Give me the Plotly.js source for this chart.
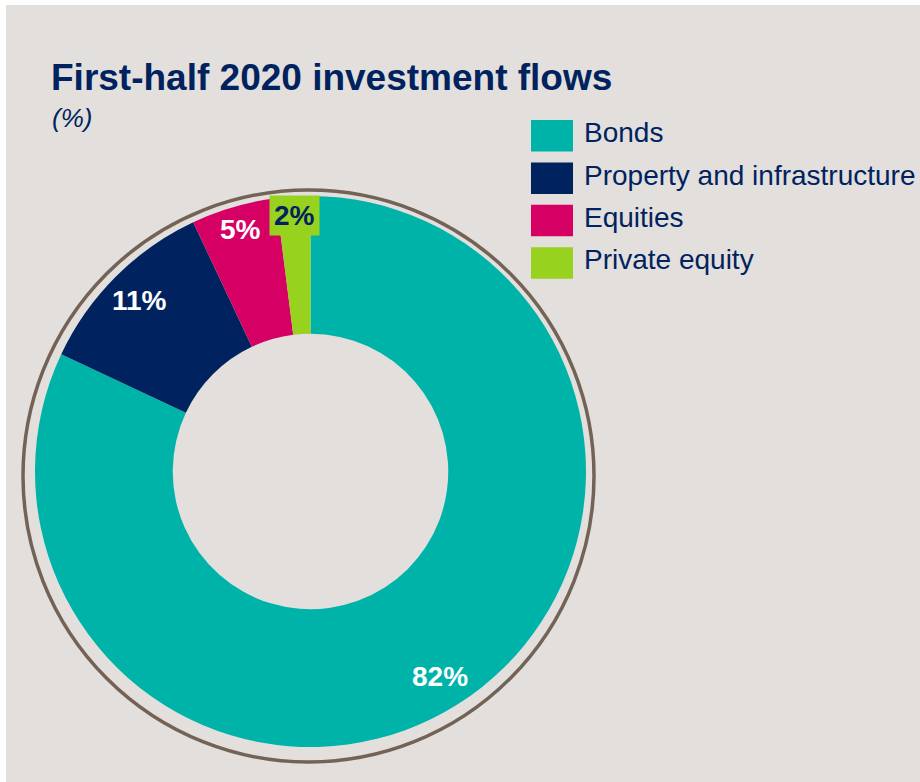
<!DOCTYPE html>
<html>
<head>
<meta charset="utf-8">
<script src="https://cdn.plot.ly/plotly-3.0.1.min.js"></script>
<style>
  html, body { margin: 0; padding: 0; background: #ffffff; }
  #chart { width: 920px; height: 782px; }
</style>
</head>
<body>
<div id="chart"></div>
<script>
// ---- data ----
const categories = ['Bonds', 'Property and infrastructure', 'Equities', 'Private equity'];
const shares = [82, 11, 5, 2];
const sliceColors = ['#00b3a9', '#002360', '#d60064', '#97d21f'];
const titleText = 'First-half 2020 investment flows';
const unitText = '(%)';

// ---- style ----
const W = 920, H = 782;
const FONT = 'Arial, "Liberation Sans", Helvetica, sans-serif';
const NAVY = '#00235f';
const BG = '#e3dfdc';
const labelColors = ['#ffffff', '#ffffff', '#ffffff', NAVY];
const labelBgs = [null, null, null, '#97d21f'];
const labelRadius = [0.88, 0.88, 0.915, 0.93];

const px = x => x / W;
const py = y => 1 - y / H;

// pie geometry (pixels)
const pieLeft = 35, pieRight = 586, pieTop = 196, pieBottom = 747;
const cx = (pieLeft + pieRight) / 2, cy = (pieTop + pieBottom) / 2;
const R = (pieRight - pieLeft) / 2;

const trace = {
  type: 'pie',
  labels: categories,
  values: shares,
  marker: { colors: sliceColors, line: { width: 0 } },
  hole: 0.5,
  sort: false,
  direction: 'clockwise',
  rotation: 0,
  textinfo: 'none',
  hoverinfo: 'label+percent',
  showlegend: false,
  domain: { x: [px(pieLeft), px(pieRight)], y: [py(pieBottom), py(pieTop)] }
};

const annotations = [];
const shapes = [];

// background panel with thin white border at top/left
shapes.push({ type: 'rect', xref: 'paper', yref: 'paper', x0: px(6), x1: 1, y0: 0, y1: py(5),
  fillcolor: BG, line: { width: 0 }, layer: 'below' });
// outer ring
shapes.push({ type: 'circle', xref: 'paper', yref: 'paper',
  x0: px(23), x1: px(594), y0: py(762), y1: py(190),
  line: { color: '#736357', width: 3.5 }, fillcolor: 'rgba(0,0,0,0)', layer: 'below' });

// slice labels at mid-angles computed from data
const total = shares.reduce((a, b) => a + b, 0);
let cum = 0;
shares.forEach((v, i) => {
  const mid = (cum + v / 2) / total * 2 * Math.PI;
  cum += v;
  const r = R * labelRadius[i];
  const x = cx + r * Math.sin(mid);
  const y = cy - r * Math.cos(mid);
  const a = {
    xref: 'paper', yref: 'paper', x: px(x), y: py(y),
    xanchor: 'center', yanchor: 'middle', showarrow: false,
    text: '<b>' + v + '%</b>',
    font: { family: FONT, size: 28, color: labelColors[i] }
  };
  if (labelBgs[i]) { a.bgcolor = labelBgs[i]; a.borderpad = 4; }
  annotations.push(a);
});

// custom legend
const legX = 531, legW = 42, legTop = 120, legH = 31.5, legStep = 42.4;
categories.forEach((c, i) => {
  const t = legTop + i * legStep;
  shapes.push({ type: 'rect', xref: 'paper', yref: 'paper',
    x0: px(legX), x1: px(legX + legW), y0: py(t + legH), y1: py(t),
    fillcolor: sliceColors[i], line: { width: 0 } });
  annotations.push({ xref: 'paper', yref: 'paper', x: px(582), y: py(t + legH / 2 - 3),
    xanchor: 'left', yanchor: 'middle', showarrow: false, text: c,
    font: { family: FONT, size: 28, color: NAVY } });
});

// unit subtitle
annotations.push({ xref: 'paper', yref: 'paper', x: px(50), y: py(118),
  xanchor: 'left', yanchor: 'middle', showarrow: false, text: '<i>' + unitText + '</i>',
  font: { family: FONT, size: 26, color: NAVY } });

const layout = {
  width: W, height: H,
  margin: { l: 0, r: 0, t: 0, b: 0 },
  paper_bgcolor: '#ffffff',
  showlegend: false,
  title: {
    text: '<b>' + titleText + '</b>',
    x: px(51), xref: 'paper', xanchor: 'left',
    y: 1 - 77.5 / H, yref: 'container', yanchor: 'middle',
    font: { family: FONT, size: 37, color: NAVY }
  },
  shapes: shapes,
  annotations: annotations
};

Plotly.newPlot('chart', [trace], layout, { displayModeBar: false, staticPlot: true });
</script>
</body>
</html>
